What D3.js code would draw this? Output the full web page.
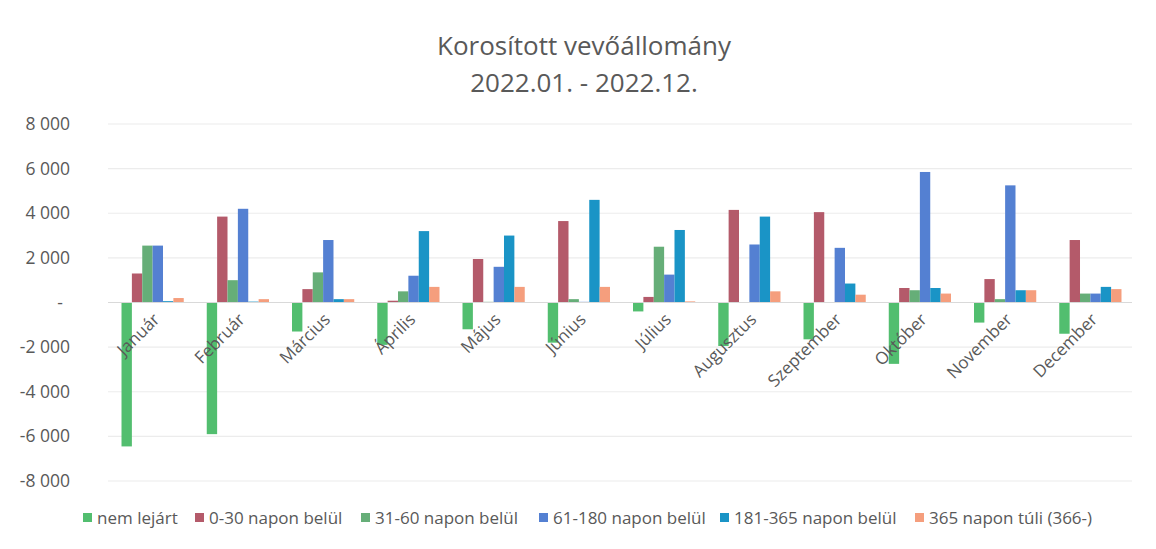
<!DOCTYPE html>
<html>
<head>
<meta charset="utf-8">
<script src="https://cdn.jsdelivr.net/npm/d3@7"></script>
<style>
  body { margin: 0; background: #ffffff; }
  text { font-family: "Open Sans", sans-serif; fill: #595959; }
</style>
</head>
<body>
<div id="my_dataviz"></div>
<script>
// Data
var months = ["Január", "Február", "Március", "Április", "Május", "Június",
  "Július", "Augusztus", "Szeptember", "Október", "November", "December"];
var seriesNames = ["nem lejárt", "0-30 napon belül", "31-60 napon belül",
  "61-180 napon belül", "181-365 napon belül", "365 napon túli (366-)"];
var nemLejart = [-6450, -5900, -1300, -1900, -1200, -1800, -400, -1950, -1650, -2750, -900, -1400];
var nap0_30 = [1300, 3850, 600, 80, 1950, 3650, 250, 4150, 4050, 650, 1050, 2800];
var nap31_60 = [2550, 1000, 1350, 500, 30, 150, 2500, 0, 0, 550, 150, 400];
var nap61_180 = [2550, 4200, 2800, 1200, 1600, 30, 1250, 2600, 2450, 5850, 5250, 400];
var nap181_365 = [60, 40, 150, 3200, 3000, 4600, 3250, 3850, 850, 650, 550, 700];
var nap365 = [200, 150, 150, 700, 700, 700, 50, 500, 350, 400, 550, 600];
var yTicks = [-8000, -6000, -4000, -2000, 0, 2000, 4000, 6000, 8000];
var titleLines = ["Korosított vevőállomány", "2022.01. - 2022.12."];

var seriesValues = [nemLejart, nap0_30, nap31_60, nap61_180, nap181_365, nap365];
var colors = ["#52BE6F", "#B45A6A", "#66AE78", "#5480D2", "#1A94C6", "#F59E7D"];

var width = 1156, height = 549;
var plot = { left: 108, right: 1132, top: 124, bottom: 481 };

var svg = d3.select("#my_dataviz")
  .append("svg")
  .attr("width", width)
  .attr("height", height);

// rows: one per month, with the six series values
var rows = months.map(function (m, i) {
  return { month: m, values: seriesNames.map(function (s, j) {
    return { key: s, value: seriesValues[j][i], idx: j };
  }) };
});

var x0 = d3.scaleBand()
  .domain(months)
  .range([plot.left + 2, plot.right + 1])
  .paddingInner(0.27)
  .paddingOuter(0.135);

var x1 = d3.scaleBand()
  .domain(seriesNames)
  .range([0, x0.bandwidth()]);

var y = d3.scaleLinear()
  .domain([-8000, 8000])
  .range([plot.bottom, plot.top]);

var color = d3.scaleOrdinal().domain(seriesNames).range(colors);

var locale = d3.formatLocale({ decimal: ",", thousands: " ", grouping: [3], currency: ["", ""], minus: "-" });
var fmt = locale.format(",");

// Gridlines
svg.append("g")
  .selectAll("line")
  .data(yTicks.filter(function (d) { return d !== 0; }))
  .enter().append("line")
  .attr("x1", plot.left)
  .attr("x2", plot.right)
  .attr("y1", function (d) { return y(d); })
  .attr("y2", function (d) { return y(d); })
  .attr("stroke", "#ececec")
  .attr("stroke-width", 1.2);

// Y axis labels
var yAxis = svg.append("g")
  .attr("transform", "translate(70,0)")
  .call(d3.axisLeft(y).tickValues(yTicks).tickSize(0).tickPadding(0)
    .tickFormat(function (d) { return d === 0 ? "-" : fmt(d); }));
yAxis.select(".domain").remove();
yAxis.selectAll("text")
  .style("font-family", "'Open Sans', sans-serif")
  .style("font-size", "17.5px")
  .attr("fill", "#595959")
  .attr("dx", function (d) { return d === 0 ? -7 : 0; });

// Bars
var groups = svg.append("g")
  .selectAll("g")
  .data(rows)
  .enter().append("g")
  .attr("transform", function (d) { return "translate(" + x0(d.month) + ",0)"; });

groups.selectAll("rect")
  .data(function (d) { return d.values; })
  .enter().append("rect")
  .attr("x", function (d) { return x1(d.key); })
  .attr("width", x1.bandwidth())
  .attr("y", function (d) { return y(Math.max(0, d.value)); })
  .attr("height", function (d) { return Math.abs(y(d.value) - y(0)); })
  .attr("fill", function (d) { return color(d.key); });

// Zero line
svg.append("line")
  .attr("x1", plot.left)
  .attr("x2", plot.right)
  .attr("y1", y(0))
  .attr("y2", y(0))
  .attr("stroke", "#d9d9d9")
  .attr("stroke-width", 1);

// Category labels, rotated
svg.append("g")
  .selectAll("text")
  .data(months)
  .enter().append("text")
  .attr("transform", function (d) {
    return "translate(" + (x0(d) + x0.bandwidth() / 2 + 8) + "," + (y(0) + 18) + ") rotate(-45)";
  })
  .attr("text-anchor", "end")
  .style("font-size", "17px")
  .text(function (d) { return d; });

// Title
svg.append("g")
  .selectAll("text")
  .data(titleLines)
  .enter().append("text")
  .attr("x", 584)
  .attr("y", function (d, i) { return 55 + i * 37; })
  .attr("text-anchor", "middle")
  .style("font-size", "26px")
  .text(function (d) { return d; });

// Legend
var legendX = [83, 195, 361, 539, 720, 915];
var legend = svg.append("g")
  .selectAll("g")
  .data(seriesNames)
  .enter().append("g")
  .attr("transform", function (d, i) { return "translate(" + legendX[i] + ",513)"; });

legend.append("rect")
  .attr("width", 9)
  .attr("height", 9)
  .attr("fill", color);

legend.append("text")
  .attr("x", 14)
  .attr("y", 11)
  .style("font-size", "17px")
  .text(function (d) { return d; });
</script>
</body>
</html>
